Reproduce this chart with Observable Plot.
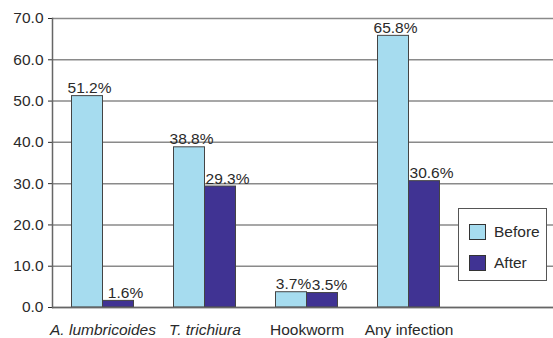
<!DOCTYPE html>
<html>
<head>
<meta charset="utf-8">
<script src="https://cdn.jsdelivr.net/npm/d3@7"></script>
<script src="https://cdn.jsdelivr.net/npm/@observablehq/plot@0.6"></script>
<style>
  body { margin: 0; background: #fff; }
  #chart { position: relative; width: 553px; height: 338px; font-family: "Liberation Sans", Arial, sans-serif; }
  #legend {
    position: absolute; left: 458px; top: 208px; width: 87px; height: 71px;
    background: #fff; border: 1px solid #555; box-sizing: content-box;
    font-size: 15.5px; color: #2a2a2a;
  }
  #legend .row { position: absolute; left: 10px; display: flex; align-items: center; }
  #legend .sw { width: 15px; height: 14px; border: 1px solid #333; margin-right: 8px; }
</style>
</head>
<body>
<div id="chart"></div>
<script>
// Prevalence of helminth infection before and after treatment (%)
const categories = ["A. lumbricoides", "T. trichiura", "Hookworm", "Any infection"];
const speciesNames = ["A. lumbricoides", "T. trichiura"]; // set in italics
const series = ["Before", "After"];
const before = [51.2, 38.8, 3.7, 65.8];
const after = [1.6, 29.3, 3.5, 30.6];
const yTicks = [0, 10, 20, 30, 40, 50, 60, 70];
const colors = {Before: "#a6dcef", After: "#403393"};

const rows = categories.flatMap((c, i) => [
  {category: c, series: "Before", value: before[i]},
  {category: c, series: "After", value: after[i]}
]);
const beforeRows = rows.filter(d => d.series === "Before");
const afterRows = rows.filter(d => d.series === "After");
const fmt = d => d.value.toFixed(1) + "%";

const half = 15.5; // half a bar pair: each bar sits on one side of the category centre

const chart = Plot.plot({
  width: 553,
  height: 338,
  marginLeft: 52,
  marginRight: 0,
  marginTop: 18,
  marginBottom: 31,
  style: {fontFamily: "Liberation Sans, Arial, sans-serif", fontSize: "15.5px", color: "#2a2a2a", background: "#fff"},
  x: {domain: categories, range: [51, 460], paddingInner: 0.697, paddingOuter: 0.3485, axis: null},
  y: {domain: [0, 70], ticks: yTicks, tickFormat: d => d.toFixed(1), tickSize: 4, tickPadding: 5, label: null},
  marks: [
    Plot.ruleY(yTicks, {stroke: "#8a8a8a", strokeWidth: 1.5}),
    Plot.frame({anchor: "left", stroke: "#666", strokeWidth: 1.5}),
    Plot.barY(beforeRows, {x: "category", y: "value", fill: colors.Before, stroke: "#444", strokeWidth: 1, dx: -half}),
    Plot.barY(afterRows, {x: "category", y: "value", fill: colors.After, stroke: "#444", strokeWidth: 1, dx: half}),
    Plot.ruleY([0], {stroke: "#666", strokeWidth: 1.5}),
    Plot.text(beforeRows, {x: "category", y: "value", text: fmt, lineAnchor: "bottom", dy: -3, dx: -half + 2, fill: "#2a2a2a"}),
    Plot.text(afterRows, {x: "category", y: "value", text: fmt, lineAnchor: "bottom", dy: -3, dx: half + 7, fill: "#2a2a2a"}),
    Plot.text(categories.filter(c => speciesNames.includes(c)), {x: d => d, frameAnchor: "bottom", lineAnchor: "top", dy: 16, fontStyle: "italic", fill: "#2a2a2a"}),
    Plot.text(categories.filter(c => !speciesNames.includes(c)), {x: d => d, frameAnchor: "bottom", lineAnchor: "top", dy: 16, fill: "#2a2a2a"})
  ]
});

const root = document.getElementById("chart");
root.appendChild(chart);

// Legend box
const legend = document.createElement("div");
legend.id = "legend";
series.forEach((s, i) => {
  const row = document.createElement("div");
  row.className = "row";
  row.style.top = (14 + i * 31) + "px";
  const sw = document.createElement("div");
  sw.className = "sw";
  sw.style.background = colors[s];
  const label = document.createElement("span");
  label.textContent = s;
  row.appendChild(sw);
  row.appendChild(label);
  legend.appendChild(row);
});
root.appendChild(legend);
</script>
</body>
</html>
